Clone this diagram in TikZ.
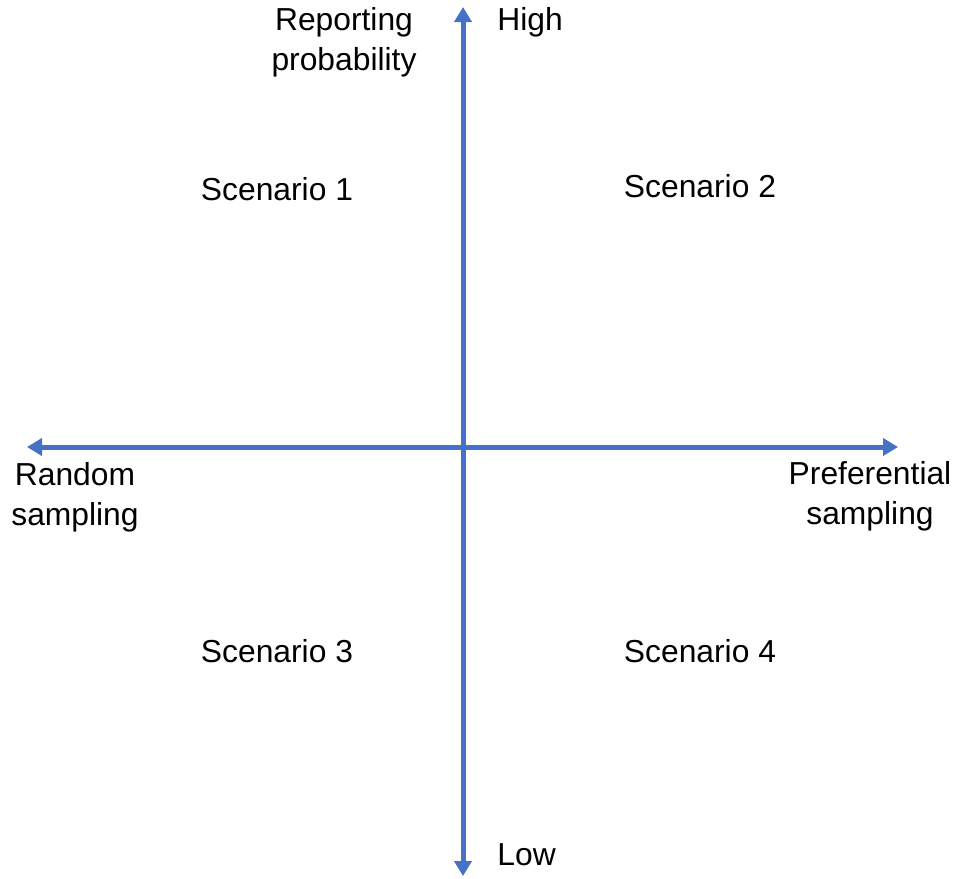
\documentclass[tikz,border=0pt]{standalone}
\usepackage{fontspec}
\setmainfont{Liberation Sans}
\usetikzlibrary{arrows.meta}
\definecolor{axisblue}{HTML}{4472C4}
\begin{document}
\begin{tikzpicture}[x=0.5pt,y=-0.5pt,
  axis/.style={draw=axisblue,line width=2.5pt,-{Triangle[width=8.5pt,length=7.5pt]}},
  lbl/.style={inner sep=0pt,font=\fontsize{15.9pt}{20pt}\selectfont,align=center}]
\useasboundingbox (0,0) rectangle (956,878);
\coordinate (top) at (463,7);
\coordinate (bot) at (463,876);
\coordinate (left) at (27,447);
\coordinate (right) at (898,447);
\coordinate (c) at (463,447);
\draw[axis] (c) -- (top);
\draw[axis] (c) -- (bot);
\draw[axis] (c) -- (left);
\draw[axis] (c) -- (right);
\node[lbl,anchor=west] (high) at (497,22) {High};
\node[lbl,anchor=west] (low) at (497,855) {Low};
\node[lbl] (rep) at (344,42) {Reporting\\probability};
\node[lbl] (s1) at (277,189) {Scenario 1};
\node[lbl] (s2) at (700,186) {Scenario 2};
\node[lbl] (s3) at (277,651) {Scenario 3};
\node[lbl] (s4) at (700,651) {Scenario 4};
\node[lbl] (rand) at (75,497) {Random\\sampling};
\node[lbl] (pref) at (870,496) {Preferential\\sampling};
\end{tikzpicture}
\end{document}
